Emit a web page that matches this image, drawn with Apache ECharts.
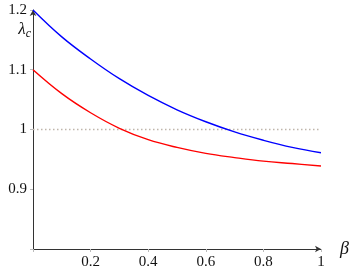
<!DOCTYPE html>
<html><head><meta charset="utf-8">
<script src="https://cdn.jsdelivr.net/npm/echarts@6/dist/echarts.min.js"></script>
<style>html,body{margin:0;padding:0;background:#fff}#c{width:357px;height:273px}</style>
</head><body><div id="c"></div>
<script>
const beta = [0, 0.1, 0.2, 0.3, 0.4, 0.5, 0.6, 0.7, 0.8, 0.9, 1.0];
const blueVals = [1.200, 1.155, 1.118, 1.085, 1.057, 1.033, 1.013, 0.996, 0.982, 0.970, 0.961];
const redVals = [1.100, 1.060, 1.028, 1.002, 0.983, 0.970, 0.960, 0.953, 0.947, 0.943, 0.939];
const refLine = [[0, 1], [1, 1]];
const xTicks = [0.2, 0.4, 0.6, 0.8, 1];
const yTicks = [0.9, 1, 1.1, 1.2];

const font = '"Liberation Serif", "DejaVu Serif", serif';
const chart = echarts.init(document.getElementById('c'));
chart.setOption({
  animation: false,
  grid: {left: 33, right: 36, top: 10, bottom: 24, containLabel: false},
  xAxis: {
    type: 'value', min: 0, max: 1, interval: 0.2,
    name: 'β', nameLocation: 'end', nameGap: 19,
    nameTextStyle: {fontFamily: font, fontStyle: 'italic', fontSize: 18, color: '#111', padding: [0, 0, 8, 0]},
    axisLine: {show: true, onZero: false, symbol: ['none', 'arrow'], symbolSize: [5, 6], lineStyle: {color: '#333', width: 1}},
    axisTick: {show: true, length: 3, lineStyle: {color: '#bbb'}},
    axisLabel: {fontFamily: font, fontSize: 15, color: '#111', margin: 6,
      formatter: v => xTicks.some(t => Math.abs(t - v) < 1e-9) ? String(+v.toFixed(1)) : ''},
    splitLine: {show: false}
  },
  yAxis: {
    type: 'value', min: 0.8, max: 1.2, interval: 0.1,
    name: '{a|λ}{b|c}', nameLocation: 'end', nameGap: -30,
    nameTextStyle: {align: 'right', padding: [0, 2, 0, 0],
      rich: {a: {fontFamily: font, fontStyle: 'italic', fontSize: 17, color: '#111'},
             b: {fontFamily: font, fontStyle: 'italic', fontSize: 12, color: '#111', padding: [8, 0, 0, 0]}}},
    axisLine: {show: true, onZero: false, symbol: ['none', 'arrow'], symbolSize: [5, 6], lineStyle: {color: '#333', width: 1}},
    axisTick: {show: true, length: 3, lineStyle: {color: '#bbb'}},
    axisLabel: {fontFamily: font, fontSize: 15, color: '#111', margin: 6,
      formatter: v => yTicks.some(t => Math.abs(t - v) < 1e-9) ? String(+v.toFixed(1)) : ''},
    splitLine: {show: false}
  },
  series: [
    {type: 'line', data: refLine, symbol: 'none', silent: true,
     lineStyle: {color: '#bfb5aa', width: 1.3, type: [1.5, 2.5]}},
    {type: 'line', data: beta.map((b, i) => [b, blueVals[i]]), symbol: 'none', smooth: 0.4,
     lineStyle: {color: '#0000ff', width: 1.4}},
    {type: 'line', data: beta.map((b, i) => [b, redVals[i]]), symbol: 'none', smooth: 0.4,
     lineStyle: {color: '#ff0000', width: 1.4}}
  ]
});
</script></body></html>
